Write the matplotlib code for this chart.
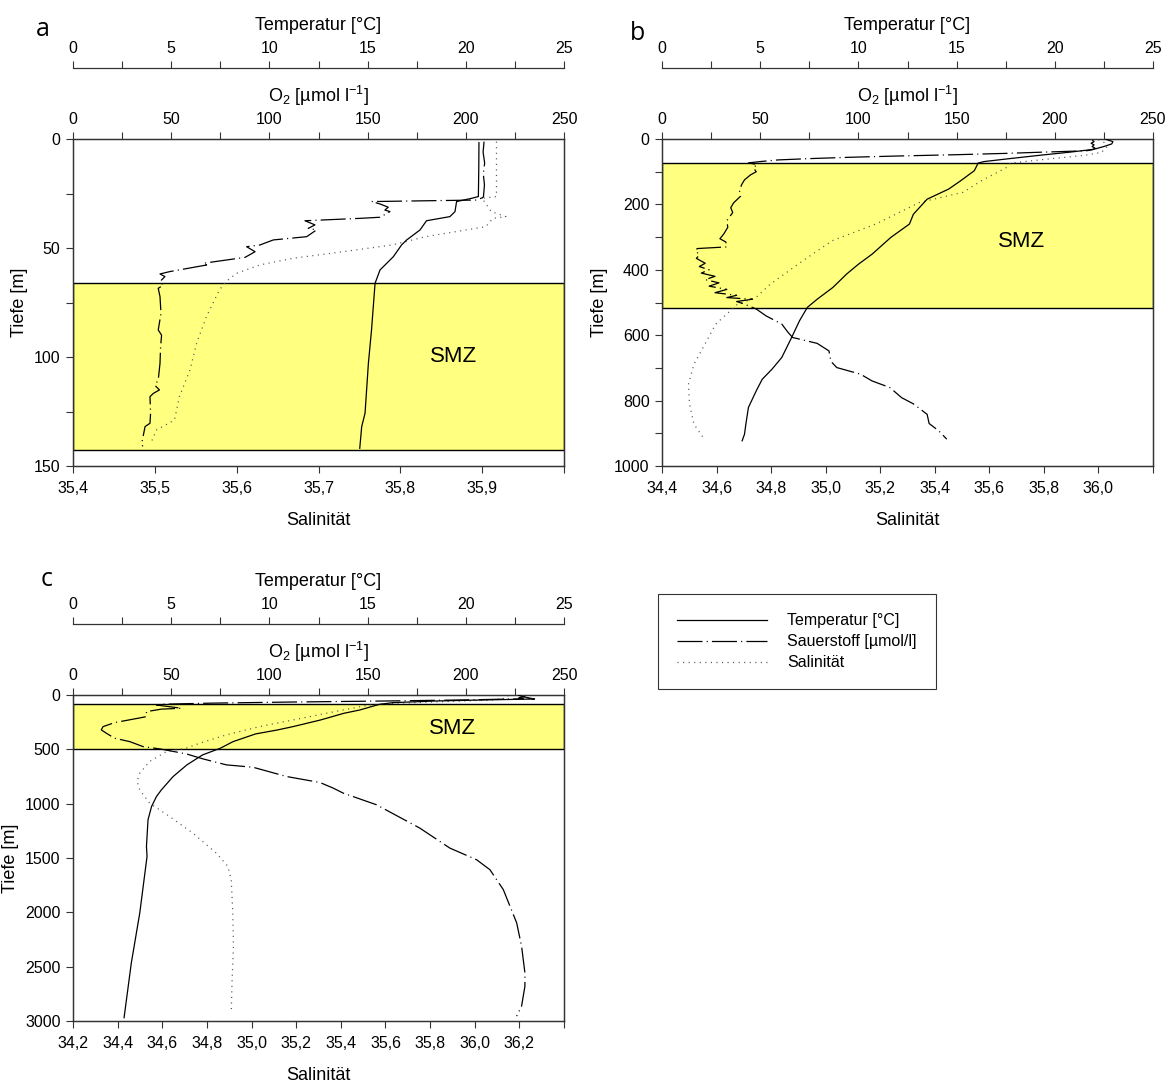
import numpy as np
import matplotlib.pyplot as plt
from matplotlib.ticker import MultipleLocator

plt.rcParams['font.family'] = ['Liberation Sans', 'DejaVu Sans']
plt.rcParams['mathtext.fontset'] = 'custom'
plt.rcParams['mathtext.rm'] = 'Liberation Sans'
plt.rcParams['mathtext.it'] = 'Liberation Sans:italic'
plt.rcParams['lines.scale_dashes'] = False

# ---------------- panel a (0-150 m) ----------------
a_temp_depth = [1.7, 14, 26.4, 27.2, 28.7, 33.3, 35.6, 37.5, 41.7, 46.3, 48.6, 54.0,
                60.1, 66.2, 87.6, 102.9, 125.8, 131.9, 141.9]
a_temp = [20.67, 20.66, 20.64, 20.3, 19.53, 19.45, 19.19, 18.0, 17.67, 16.99, 16.73, 16.31,
          15.63, 15.38, 15.2, 15.04, 14.87, 14.7, 14.6]

a_o2_depth = [1.2, 6, 11, 16, 21, 26.4, 26.9, 28.0, 28.7, 29.8, 31.3, 32.6, 33.3, 35.9, 36.4,
              37.5, 39.4, 41.0, 41.7, 44.8, 46.3, 48.6, 49.4, 51.7, 54.3, 57.0, 57.8, 60.8,
              61.9, 63.1, 65.4, 67.0, 68.5, 72.3, 80, 87.6, 90, 95.3, 102.9, 110.5, 113,
              115.1, 116.7, 118.2, 125.8, 130.4, 131.9, 139.6, 141]
a_o2 = [209.3, 208.8, 209.6, 208.9, 209.5, 209.0, 208.6, 205.5, 152.1, 156.3, 160.5, 158.8,
        161.4, 156.3, 146.1, 118.1, 123.2, 119.8, 124.0, 119.0, 102.0, 95.2, 88.4, 92.7, 87.6,
        66.4, 68.0, 49.4, 44.3, 46.8, 44.3, 46.0, 43.4, 44.3, 44.8, 43.4, 45.1, 44.6, 44.3,
        43.4, 41.7, 44.0, 40.9, 39.2, 39.5, 39.2, 36.7, 35.0, 35.5]

a_sal_depth = [1.2, 26.4, 27.2, 33.3, 35.6, 36.4, 40.2, 44.8, 48.6, 51.7, 54.7, 57.8, 61.6,
               65.4, 69.2, 81.5, 93.7, 105.9, 118.2, 128.9, 133.5, 139.6]
a_sal = [35.9175, 35.9175, 35.900, 35.911, 35.929, 35.913, 35.9045, 35.831, 35.790, 35.730,
         35.669, 35.628, 35.600, 35.587, 35.579, 35.563, 35.551, 35.543, 35.530, 35.524,
         35.502, 35.495]
a_smz = (66, 142.5)

# ---------------- panel b (0-1000 m) ----------------
b_temp_depth = [1, 8, 15, 23, 31.6, 40, 50, 60, 69, 73.5, 97, 128, 153, 184, 230, 260, 301,
                352, 383, 413, 454, 490, 515, 556, 607, 668, 704, 735, 770, 821, 872, 903, 923]
b_temp = [22.6, 22.96, 22.9, 22.5, 21.98, 20.8, 19.2, 17.7, 16.4, 16.1, 15.9, 15.2, 14.6, 13.5,
          12.8, 12.6, 11.65, 10.7, 10.0, 9.4, 8.7, 7.9, 7.4, 7.0, 6.6, 6.1, 5.6, 5.1, 4.8,
          4.4, 4.27, 4.2, 4.08]

b_o2_depth = [3, 8, 13, 18, 23, 28, 33, 36, 40, 44, 48, 52, 56, 60, 64, 69, 73, 78, 88, 100,
              110, 125, 140, 160, 175, 195, 210, 225, 250, 270, 290, 305, 315, 330, 335, 340,
              355, 365, 380, 390, 400, 410, 420, 430, 440, 450, 460, 470, 478, 485, 490, 497,
              505, 520, 541, 566, 590, 607, 625, 648, 680, 699, 719, 740, 760, 791, 810, 842,
              870, 893, 918]
b_o2 = [219, 220, 218.5, 220, 219, 220.5, 219, 216, 195, 175, 150, 120, 95, 75, 59, 50, 44,
        48.5, 46.5, 48, 45, 42, 40.5, 39.5, 40, 36.5, 35, 36, 33, 33.5, 31.5, 29.5, 32.5, 33,
        18, 17, 19, 17.5, 22, 19, 24, 20, 27, 22, 29, 24, 33, 27, 38, 33, 46, 38, 42, 48, 53,
        61, 64, 66.5, 79, 85, 86, 89, 101, 107, 116, 122, 128, 135, 136, 141, 145]

b_sal_depth = [2, 10, 25, 41, 50, 60, 73.5, 86.7, 127.6, 163, 194, 260, 311, 372, 444, 485,
               505, 525, 566, 628, 689, 750, 811, 872, 913]
b_sal = [36.0, 36.02, 36.03, 36.011, 35.95, 35.83, 35.677, 35.664, 35.571, 35.504, 35.344,
         35.184, 35.024, 34.917, 34.797, 34.744, 34.677, 34.651, 34.597, 34.557, 34.517,
         34.497, 34.501, 34.517, 34.551]
b_smz = (73, 517)

# ---------------- panel c (0-3000 m) ----------------
c_temp_depth = [3, 15, 30, 37, 45, 55, 70, 86, 138, 168, 230, 291, 322, 358, 429, 490, 551,
                643, 750, 873, 934, 1026, 1148, 1393, 1485, 2006, 2465, 2970]
c_temp = [22.7, 22.9, 23.3, 23.5, 21.0, 18.5, 16.3, 15.6, 14.6, 13.8, 12.6, 11.2, 10.4, 9.3,
          8.15, 7.5, 6.6, 5.8, 5.1, 4.5, 4.25, 4.0, 3.82, 3.74, 3.77, 3.4, 2.97, 2.6]

c_o2_depth = [3, 15, 25, 35, 45, 55, 65, 75, 85, 92, 122, 130, 153, 199, 214, 254, 291, 321,
              352, 398, 429, 475, 496, 542, 588, 643, 665, 750, 805, 857, 903, 1010, 1225,
              1409, 1516, 1608, 1791, 2097, 2312, 2557, 2680, 2863, 2955]
c_o2 = [228, 230, 227, 229.3, 200, 160, 110, 70, 45, 42.5, 55.2, 45, 37.4, 37.4, 33.1, 21.2,
        15.3, 14.4, 17, 21.2, 28.9, 35.7, 44.2, 57.7, 66.2, 78.1, 91.7, 108.7, 125.7, 132.5,
        137.6, 154.5, 176.6, 191.9, 205.5, 212.3, 219.1, 225.9, 228.4, 230.1, 230.1, 228.4,
        225.9]

c_sal_depth = [3, 30, 46, 77, 92, 138, 230, 291, 367, 444, 490, 521, 612, 720, 796, 873, 995,
               1118, 1271, 1455, 1577, 1699, 2006, 2312, 2618, 2924]
c_sal = [36.15, 36.14, 36.08, 35.633, 35.528, 35.409, 35.185, 35.036, 34.887, 34.767, 34.707,
         34.618, 34.543, 34.499, 34.487, 34.499, 34.543, 34.633, 34.737, 34.842, 34.894,
         34.909, 34.916, 34.919, 34.913, 34.909]
c_smz = (83, 497)

legend_labels = ['Temperatur [°C]', 'Sauerstoff [µmol/l]', 'Salinität']

W, H = 1170, 1082
fig = plt.figure(figsize=(W / 100, H / 100), dpi=100)

YELLOW = '#FFFF80'
SPINE = '#333333'
SOLID = dict(color='black', lw=0.9)
DASHED = dict(color='black', lw=0.9, linestyle=(0, (18, 3, 0.8, 3)))
DOTTED = dict(color='#555555', lw=0.9, linestyle=(0, (0.8, 3.2)))


def px_rect(x0, y0, x1, y1):
    return [x0 / W, 1 - y1 / H, (x1 - x0) / W, (y1 - y0) / H]


def panel(rect, sal_lim, sal_step, dmax, dmajor, dminor, smz, smz_pos,
          t_d, t_v, o_d, o_v, s_d, s_v):
    ax = fig.add_axes(rect)
    ax.set_xlim(*sal_lim)
    ax.set_ylim(dmax, 0)
    ticks = np.round(np.arange(sal_lim[0], sal_lim[1] + sal_step / 2, sal_step), 1)
    labels = [f'{v:.1f}'.replace('.', ',') for v in ticks[:-1]] + ['']
    ax.set_xticks(ticks, labels)
    ax.yaxis.set_major_locator(MultipleLocator(dmajor))
    if dminor:
        ax.yaxis.set_minor_locator(MultipleLocator(dminor))
    ax.tick_params(which='both', direction='out', length=5, width=0.8, color=SPINE,
                   labelsize=11.5, pad=4)
    ax.tick_params(axis='x', pad=6)
    for s in ax.spines.values():
        s.set_color(SPINE)
        s.set_linewidth(0.9)
    ax.set_xlabel('Salinität', fontsize=13, labelpad=11)
    ax.set_ylabel('Tiefe [m]', fontsize=13, labelpad=4)
    ax.axhspan(smz[0], smz[1], facecolor=YELLOW, edgecolor='black', lw=1.0, zorder=0)
    ax.text(smz_pos[0], smz_pos[1], 'SMZ', fontsize=16, ha='center', va='center')
    ls, = ax.plot(s_v, s_d, **DOTTED)

    ax_o = ax.twiny()
    ax_o.set_xlim(0, 250)
    ax_o.xaxis.set_major_locator(MultipleLocator(50))
    ax_o.xaxis.set_minor_locator(MultipleLocator(25))
    ax_o.tick_params(which='both', direction='out', length=5, width=0.8, color=SPINE,
                     labelsize=11.5, pad=4)
    for s in ax_o.spines.values():
        s.set_color(SPINE)
        s.set_linewidth(0.9)
    ax_o.set_xlabel(r'O$_2$ [µmol l$^{\mathregular{-1}}$]', fontsize=13, labelpad=7)
    lo, = ax_o.plot(o_v, o_d, **DASHED)

    ax_t = ax.twiny()
    ax_t.set_xlim(0, 25)
    ax_t.spines['top'].set_position(('outward', 51))
    for side in ['left', 'right', 'bottom']:
        ax_t.spines[side].set_visible(False)
    ax_t.spines['top'].set_color(SPINE)
    ax_t.spines['top'].set_linewidth(0.9)
    ax_t.xaxis.set_major_locator(MultipleLocator(5))
    ax_t.xaxis.set_minor_locator(MultipleLocator(2.5))
    ax_t.tick_params(which='both', direction='out', length=5, width=0.8, color=SPINE,
                     labelsize=11.5, pad=4)
    ax_t.set_xlabel('Temperatur [°C]', fontsize=13, labelpad=8)
    lt, = ax_t.plot(t_v, t_d, **SOLID)
    return lt, lo, ls


panel(px_rect(73, 139, 564, 466), (35.4, 36.0), 0.1, 150, 50, 25, a_smz, (35.865, 100),
      a_temp_depth, a_temp, a_o2_depth, a_o2, a_sal_depth, a_sal)
panel(px_rect(662, 139, 1153, 466), (34.4, 36.2), 0.2, 1000, 200, 100, b_smz, (35.72, 312),
      b_temp_depth, b_temp, b_o2_depth, b_o2, b_sal_depth, b_sal)
handles = panel(px_rect(73, 695, 564, 1021), (34.2, 36.4), 0.2, 3000, 500, None, c_smz,
                (35.9, 304), c_temp_depth, c_temp, c_o2_depth, c_o2, c_sal_depth, c_sal)

for letter, (x, y) in zip('abc', [(43, 30), (637, 34), (47, 580)]):
    fig.text(x / W, 1 - y / H, letter, fontsize=18, family='Open Sans',
             ha='center', va='center')

leg = fig.legend(handles, legend_labels, loc='upper left',
                 bbox_to_anchor=(658 / W, 1 - 594 / H), frameon=True, fancybox=False,
                 edgecolor='black', fontsize=11.5, handlelength=5.6, handletextpad=1.3,
                 borderpad=1.2, labelspacing=0.38, borderaxespad=0)
leg.get_frame().set_linewidth(0.8)

fig.savefig('out.png', dpi=100)
